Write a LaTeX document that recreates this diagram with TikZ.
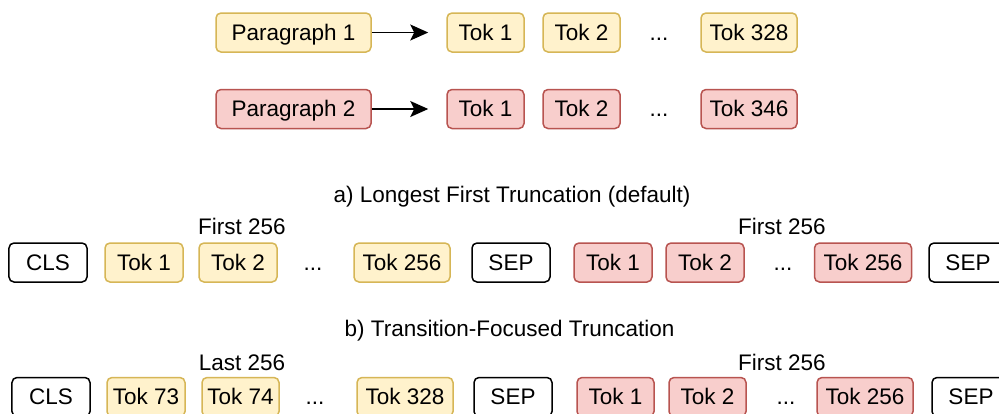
\documentclass[tikz,border=0pt]{standalone}
\usepackage{fontspec}
\setmainfont{Liberation Sans}
\usetikzlibrary{arrows.meta}
\definecolor{yfill}{HTML}{FFF2CC}
\definecolor{ydraw}{HTML}{D6B656}
\definecolor{rfill}{HTML}{F8CECC}
\definecolor{rdraw}{HTML}{B85450}
\tikzset{
  txt/.style={inner sep=0pt, text height=16bp, text depth=1bp, font=\fontsize{22.5bp}{27bp}\selectfont},
  box/.style={txt, rounded corners=5bp, line width=1.5bp, minimum height=39bp},
  ybox/.style={box, draw=ydraw, fill=yfill},
  rbox/.style={box, draw=rdraw, fill=rfill},
  wbox/.style={box, draw=black, fill=white},
  arr/.style={line width=1.6bp, -{Stealth[length=18bp,width=16bp,inset=4bp]}, shorten >=18bp}
}
\begin{document}
\begin{tikzpicture}[x=1bp,y=-1bp]
\clip (0,0) rectangle (999,413);
\fill[white] (0,0) rectangle (999,413);
% Row 1
\node[ybox, minimum width=155bp] (p1) at (293.5,32.5) {Paragraph 1};
\node[ybox, minimum width=77bp] (a1) at (485.5,32.5) {Tok 1};
\node[ybox, minimum width=77bp] (a2) at (581.5,32.5) {Tok 2};
\node[txt] (ad) at (659,32.5) {...};
\node[ybox, minimum width=96bp] (a3) at (749,32.5) {Tok 328};
\draw[arr] (p1.east) -- (a1.west);
% Row 2
\node[rbox, minimum width=155bp] (p2) at (293.5,109) {Paragraph 2};
\node[rbox, minimum width=77bp] (b1) at (485.5,109) {Tok 1};
\node[rbox, minimum width=77bp] (b2) at (581.5,109) {Tok 2};
\node[txt] (bd) at (659,109) {...};
\node[rbox, minimum width=96bp] (b3) at (749,109) {Tok 346};
\draw[arr] (p2.east) -- (b1.west);
% Section a
\node[txt] (la) at (512,195) {a) Longest First Truncation (default)};
\node[txt] (fa1) at (242,227) {First 256};
\node[txt] (fa2) at (782,227) {First 256};
\node[wbox, minimum width=78bp] (c0) at (48,262.5) {CLS};
\node[ybox, minimum width=78bp] (c1) at (144,262.5) {Tok 1};
\node[ybox, minimum width=78bp] (c2) at (238,262.5) {Tok 2};
\node[txt] (cd1) at (313,262.5) {...};
\node[ybox, minimum width=96bp] (c3) at (402,262.5) {Tok 256};
\node[wbox, minimum width=78bp] (c4) at (511,262.5) {SEP};
\node[rbox, minimum width=78bp] (c5) at (613,262.5) {Tok 1};
\node[rbox, minimum width=78bp] (c6) at (705,262.5) {Tok 2};
\node[txt] (cd2) at (783,262.5) {...};
\node[rbox, minimum width=97bp] (c7) at (863,262.5) {Tok 256};
\node[wbox, minimum width=78bp] (c8) at (968,262.5) {SEP};
% Section b
\node[txt] (lb) at (509.5,329) {b) Transition-Focused Truncation};
\node[txt] (fb1) at (242,363) {Last 256};
\node[txt] (fb2) at (782,363) {First 256};
\node[wbox, minimum width=78bp] (d0) at (51,397) {CLS};
\node[ybox, minimum width=78bp] (d1) at (146,397) {Tok 73};
\node[ybox, minimum width=77bp] (d2) at (240.5,397) {Tok 74};
\node[txt] (dd1) at (315,397) {...};
\node[ybox, minimum width=96bp] (d3) at (405,397) {Tok 328};
\node[wbox, minimum width=78bp] (d4) at (513,397) {SEP};
\node[rbox, minimum width=77bp] (d5) at (615.5,397) {Tok 1};
\node[rbox, minimum width=77bp] (d6) at (707.5,397) {Tok 2};
\node[txt] (dd2) at (786,397) {...};
\node[rbox, minimum width=96bp] (d7) at (865,397) {Tok 256};
\node[wbox, minimum width=78bp] (d8) at (971,397) {SEP};
\end{tikzpicture}
\end{document}
